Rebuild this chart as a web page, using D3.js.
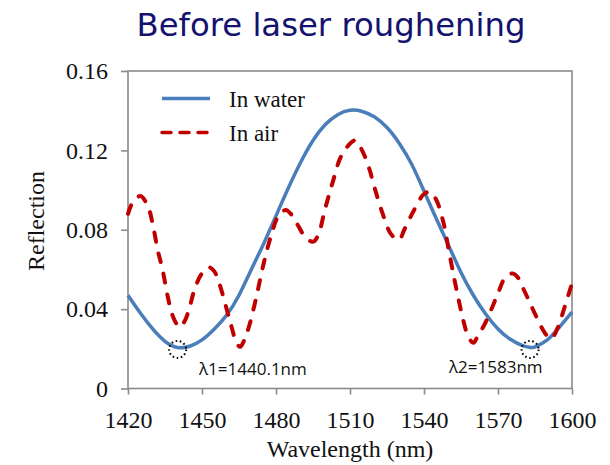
<!DOCTYPE html>
<html>
<head>
<meta charset="utf-8">
<script src="https://cdn.jsdelivr.net/npm/d3@7/dist/d3.min.js"></script>
<style>
  html, body { margin: 0; padding: 0; background: #fff; }
  svg { display: block; }
  .serif { font-family: "Liberation Serif", "Times New Roman", Tinos, "DejaVu Serif", serif; }
</style>
</head>
<body>
<svg id="chart" width="610" height="465"></svg>
<script>
// Wavelength samples (nm) and reflection for the fibre tip in water
const waterNm = [1420, 1425, 1430, 1435, 1440, 1445, 1450, 1455, 1460, 1465, 1470, 1475, 1480, 1485, 1490, 1495, 1500, 1505, 1510, 1515, 1520, 1525, 1530, 1535, 1540, 1545, 1550, 1555, 1560, 1565, 1570, 1575, 1580, 1583, 1585, 1590, 1595, 1600];
const waterR  = [0.047, 0.038, 0.030, 0.0238, 0.0207, 0.0213, 0.0245, 0.030, 0.037, 0.047, 0.060, 0.073, 0.087, 0.101, 0.114, 0.125, 0.133, 0.138, 0.1402, 0.1396, 0.1368, 0.1315, 0.1235, 0.1130, 0.0995, 0.0855, 0.0720, 0.0585, 0.0470, 0.0375, 0.0300, 0.0248, 0.0216, 0.0207, 0.0210, 0.0245, 0.0310, 0.0385];

// Wavelength samples (nm) and reflection for the fibre tip in air
const airNm = [1420, 1422, 1425, 1428, 1430, 1432, 1434, 1436, 1438, 1440, 1441, 1443, 1445, 1447, 1450, 1453, 1455, 1457, 1460, 1462, 1464, 1465.5, 1467, 1469, 1472, 1475, 1478, 1481, 1484, 1486, 1489, 1492, 1495, 1497, 1500, 1503, 1506, 1509, 1512, 1514, 1516, 1518, 1520, 1523, 1526, 1528, 1530, 1532, 1536, 1540, 1542.5, 1545, 1548, 1550, 1552, 1554, 1556, 1558, 1560, 1562, 1564, 1567, 1570, 1573, 1576, 1578, 1580, 1583, 1586, 1589, 1591.5, 1594, 1597, 1600];
const airR  = [0.088, 0.094, 0.097, 0.092, 0.083, 0.070, 0.060, 0.047, 0.037, 0.032, 0.031, 0.034, 0.041, 0.050, 0.058, 0.061, 0.059, 0.053, 0.040, 0.031, 0.023, 0.021, 0.024, 0.031, 0.046, 0.063, 0.077, 0.087, 0.090, 0.088, 0.082, 0.076, 0.074, 0.077, 0.091, 0.104, 0.116, 0.122, 0.125, 0.122, 0.117, 0.110, 0.101, 0.089, 0.079, 0.076, 0.075, 0.080, 0.090, 0.098, 0.099, 0.095, 0.083, 0.070, 0.057, 0.045, 0.034, 0.026, 0.023, 0.027, 0.031, 0.039, 0.048, 0.056, 0.058, 0.056, 0.051, 0.043, 0.035, 0.028, 0.025, 0.030, 0.041, 0.053];

// Axis ticks
const xTicks = [1420, 1450, 1480, 1510, 1540, 1570, 1600];
const yTicks = [0, 0.04, 0.08, 0.12, 0.16];

// Marked resonance minima of the water curve
const minimaNm = [1440.1, 1583];
const minimaR  = [0.0207, 0.0207];
const minimaLabels = ["λ1=1440.1nm", "λ2=1583nm"];

// Legend entries
const seriesNames = ["In water", "In air"];
const seriesColors = ["#4a7ebb", "#c00000"];

const svg = d3.select("#chart");
const axisGray = "#8a8a8a";

const x = d3.scaleLinear().domain([1420, 1600]).range([128, 572]);
const y = d3.scaleLinear().domain([0, 0.16]).range([388.5, 71]);

// Title, sized to span the plot heading width
const title = svg.append("text")
  .attr("x", 331).attr("y", 36)
  .attr("text-anchor", "middle")
  .style("font-family", "'DejaVu Sans', Tahoma, sans-serif")
  .style("font-size", "30px")
  .attr("fill", "#13136f")
  .text("Before laser roughening");
const tw = title.node().getComputedTextLength();
title.style("font-size", (30 * 389 / tw) + "px");

// Plot frame
svg.append("rect")
  .attr("x", x(1420)).attr("y", y(0.16))
  .attr("width", x(1600) - x(1420)).attr("height", y(0) - y(0.16))
  .attr("fill", "none").attr("stroke", axisGray).attr("stroke-width", 1.6);

// Axes
const xAxis = svg.append("g")
  .attr("transform", `translate(0,${y(0)})`)
  .call(d3.axisBottom(x).tickValues(xTicks).tickFormat(d3.format("d")).tickSize(6).tickPadding(16));
const yAxis = svg.append("g")
  .attr("transform", `translate(${x(1420)},0)`)
  .call(d3.axisLeft(y).tickValues(yTicks).tickFormat(d => d === 0 ? "0" : d3.format(".2f")(d)).tickSize(7).tickPadding(13));

[xAxis, yAxis].forEach(g => {
  g.attr("font-family", null).attr("font-size", null);
  g.select(".domain").remove();
  g.selectAll(".tick line").attr("stroke", axisGray).attr("stroke-width", 1.6);
  g.selectAll(".tick text")
    .attr("class", "serif").style("font-size", "24px").attr("fill", "#111");
});

// Axis titles
svg.append("text")
  .attr("class", "serif")
  .attr("x", 350).attr("y", 457)
  .attr("text-anchor", "middle")
  .style("font-size", "24px").attr("fill", "#111")
  .text("Wavelength (nm)");
svg.append("text")
  .attr("class", "serif")
  .attr("transform", "translate(44,221) rotate(-90)")
  .attr("text-anchor", "middle")
  .style("font-size", "24px").attr("fill", "#111")
  .text("Reflection");

// Curves
const waterLine = d3.line()
  .x(d => x(d[0])).y(d => y(d[1]))
  .curve(d3.curveNatural);
const airLine = d3.line()
  .x(d => x(d[0])).y(d => y(d[1]))
  .curve(d3.curveCatmullRom.alpha(0.5));

const plot = svg.append("g");
plot.append("path")
  .datum(d3.zip(waterNm, waterR))
  .attr("d", waterLine)
  .attr("fill", "none")
  .attr("stroke", seriesColors[0])
  .attr("stroke-width", 3.5);

plot.append("path")
  .datum(d3.zip(airNm, airR))
  .attr("d", airLine)
  .attr("fill", "none")
  .attr("stroke", seriesColors[1])
  .attr("stroke-width", 4)
  .attr("stroke-linecap", "round")
  .attr("stroke-dasharray", "9 12");

// Dotted circles at the minima and their labels
minimaNm.forEach((nm, i) => {
  svg.append("circle")
    .attr("cx", x(nm)).attr("cy", y(minimaR[i]) + 2)
    .attr("r", 8.5)
    .attr("fill", "none").attr("stroke", "#000")
    .attr("stroke-width", 2).attr("stroke-dasharray", "1.6 2.6");
});
const sans = "'Open Sans', 'Noto Sans', sans-serif";
svg.append("text")
  .attr("x", 199).attr("y", 375)
  .style("font-family", sans).style("font-size", "17px").attr("fill", "#111")
  .text(minimaLabels[0]);
svg.append("text")
  .attr("x", 449).attr("y", 373)
  .style("font-family", sans).style("font-size", "17px").attr("fill", "#111")
  .text(minimaLabels[1]);

// Legend
const legend = svg.append("g");
seriesNames.forEach((name, i) => {
  const ly = 98.5 + i * 34;
  legend.append("line")
    .attr("x1", 162).attr("x2", i === 0 ? 210 : 207)
    .attr("y1", ly).attr("y2", ly)
    .attr("stroke", seriesColors[i])
    .attr("stroke-width", 3.5)
    .attr("stroke-linecap", i === 0 ? "butt" : "round")
    .attr("stroke-dasharray", i === 0 ? null : "9 9");
  legend.append("text")
    .attr("class", "serif")
    .attr("x", 229).attr("y", ly + 8.5)
    .style("font-size", "23px").attr("fill", "#111")
    .text(name);
});
</script>
</body>
</html>
